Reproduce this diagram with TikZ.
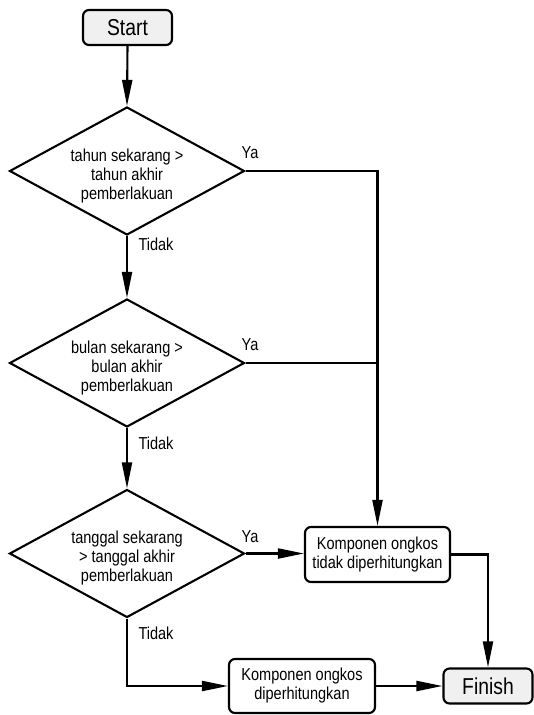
\documentclass[tikz,border=0pt]{standalone}
\usepackage{fontspec}
\setmainfont{Liberation Sans}[FakeStretch=0.84]
\usetikzlibrary{arrows.meta,shapes.geometric}
\begin{document}
\begin{tikzpicture}[x=1pt,y=-1pt,
  every node/.style={font=\fontsize{17.3}{19}\selectfont},
  flow/.style={line width=2.1pt},
  arr/.style={flow,-{Triangle[length=26pt,width=10pt]}},
  terminal/.style={draw,line width=2.1pt,rounded corners=6pt,fill=gray!12,
    minimum width=89pt,minimum height=35pt,inner sep=0pt,
    font=\fontsize{23}{25}\selectfont},
  procbox/.style={draw,line width=2.1pt,rounded corners=6pt,fill=white,
    minimum width=145pt,minimum height=55pt,inner sep=0pt,align=center},
  decision/.style={draw,diamond,line width=2.1pt,aspect=1.84,inner sep=0pt,
    minimum width=235pt,minimum height=128pt},
  dtext/.style={align=center,inner sep=0pt},
  lbl/.style={inner sep=0pt}]
\useasboundingbox (0,0) rectangle (534,715);

% terminals and steps
\node[terminal] (start) at (127.5,27.5) {Start};
\node[decision] (d1) at (127,171) {};
\node[dtext] (t1) at (127,176.5) {tahun sekarang >\\tahun akhir\\pemberlakuan};
\node[decision] (d2) at (127,363) {};
\node[dtext] (t2) at (127,368.5) {bulan sekarang >\\bulan akhir\\pemberlakuan};
\node[decision] (d3) at (127,553.5) {};
\node[dtext] (t3) at (127,558.5) {tanggal sekarang\\> tanggal akhir\\pemberlakuan};
\node[procbox] (k1) at (377.5,554.5) {Komponen ongkos\\tidak diperhitungkan};
\node[procbox,minimum width=146pt,minimum height=54pt] (k2) at (302,686) {Komponen ongkos\\diperhitungkan};
\node[terminal] (finish) at (488,686) {Finish};

% branch labels
\node[lbl] (ya1) at (250,153) {Ya};
\node[lbl] (ya2) at (250,345) {Ya};
\node[lbl] (ya3) at (250,537) {Ya};
\node[lbl] (no1) at (156,244) {Tidak};
\node[lbl] (no2) at (156,443) {Tidak};
\node[lbl] (no3) at (156,633) {Tidak};

% connectors
\draw[arr] (start.south) -- (d1.north);
\draw[arr] (d1.south) -- (d2.north);
\draw[arr] (d2.south) -- (d3.north);
\draw[arr] (d1.east) -- (k1.north |- d1.east) -- (k1.north);
\draw[flow] (d2.east) -- (k1.north |- d2.east);
\draw[arr] (d3.east) -- (d3.east -| k1.west);
\draw[arr] (k1.east) -- (finish.north |- k1.east) -- (finish.north);
\draw[arr] (d3.south) |- (k2.west);
\draw[arr] (k2.east) -- (finish.west);
\end{tikzpicture}
\end{document}
